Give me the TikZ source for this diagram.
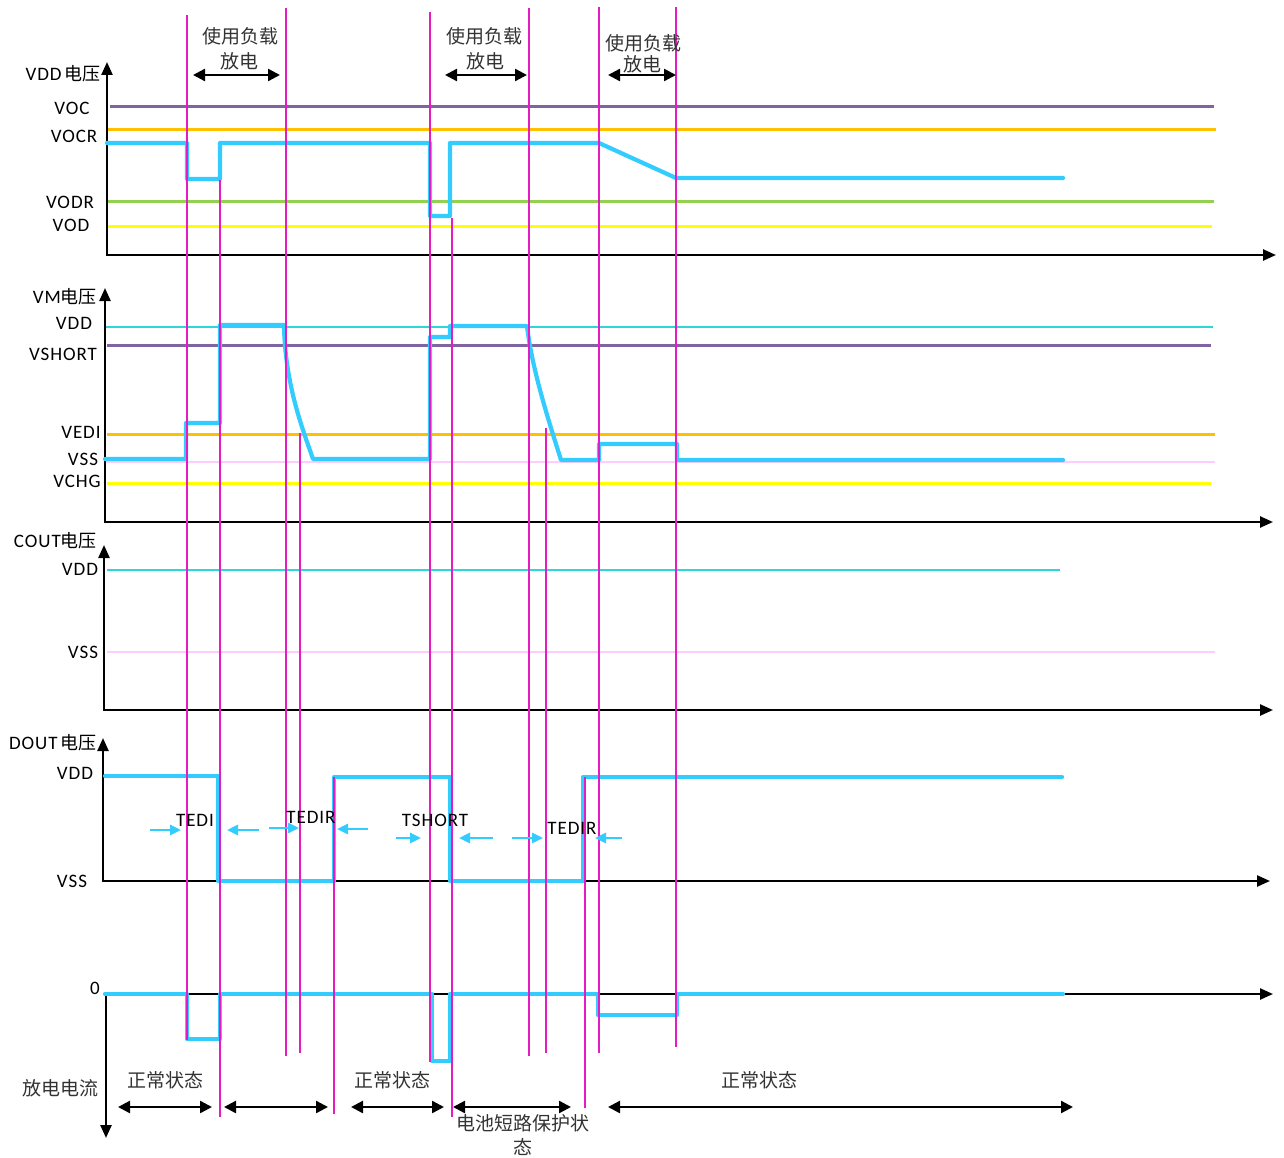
\documentclass[tikz,border=0pt]{standalone}
\usepackage{fontspec}
\setmainfont{Carlito}[LetterSpace=5]
\newfontfamily\cjk{Noto Sans CJK SC}
\usetikzlibrary{arrows.meta}
\definecolor{sig}{HTML}{33CCFF}
\definecolor{mag}{HTML}{E61CC3}
\definecolor{vpurple}{HTML}{8064A2}
\definecolor{vorange}{HTML}{FFC000}
\definecolor{vgreen}{HTML}{92D050}
\definecolor{vyellow}{HTML}{FFFF00}
\definecolor{vcyan}{HTML}{2ED6DC}
\definecolor{vpink}{HTML}{FFCCFF}
\tikzset{
  axisline/.style={line width=2.4pt, line join=miter},
  axtip/.tip={Triangle[length=13pt,width=11pt]},
  sigline/.style={sig, line width=4.2pt, line join=round, line cap=round},
  mline/.style={mag, line width=2.3pt},
  refline/.style={line width=3pt},
  lab/.style={font=\fontsize{19}{21}\selectfont, inner sep=0pt},
  cjklab/.style={font=\cjk\fontsize{19}{22}\selectfont, inner sep=0pt, text=black!80},
  darr/.style={line width=2.4pt, {Triangle[length=12pt,width=12pt]}-{Triangle[length=12pt,width=12pt]}},
  carr/.style={sig, line width=2.6pt, -{Triangle[length=11pt,width=10pt]}},
}
\begin{document}
\begin{tikzpicture}[x=1pt,y=-1pt]
\useasboundingbox[fill=white] (0,0) rectangle (1284,1158);

% ---------- reference levels ----------
% panel 1
\draw[refline,vpurple] (110,107) -- (1214,107);
\draw[refline,vorange] (107,130) -- (1216,130);
\draw[refline,vgreen]  (107,202) -- (1214,202);
\draw[refline,vyellow] (107,227) -- (1212,227);
% panel 2
\draw[line width=2pt,vcyan] (105,327) -- (1213,327);
\draw[refline,vpurple] (107,345) -- (1211,345);
\draw[refline,vorange] (107,434) -- (1215,434);
\draw[line width=2.5pt,vpink] (105,462) -- (1215,462);
\draw[refline,vyellow] (107,483) -- (1211,483);
% panel 3
\draw[line width=2pt,vcyan] (107,570) -- (1060,570);
\draw[line width=2.5pt,vpink] (107,652) -- (1215,652);

% ---------- axes ----------
\draw[axisline,axtip-axtip] (107,62) -- (107,255) -- (1276,255);
\draw[axisline,axtip-axtip] (105,288) -- (105,522) -- (1273,522);
\draw[axisline,axtip-axtip] (104,545) -- (104,710) -- (1273,710);
\draw[axisline,axtip-axtip] (103,738) -- (103,881) -- (1270,881);
\draw[axisline,axtip-axtip] (1273,994) -- (106,994) -- (106,1138);

% ---------- signals ----------
\draw[sigline] (107,143) -- (187,143) -- (187,179) -- (220,179) -- (220,143)
  -- (430,143) -- (430,216) -- (450,216) -- (450,143) -- (599,143) -- (676,178) -- (1063,178);
\draw[sigline] (105,459) -- (186,459) -- (186,423) -- (220,423) -- (220,325) -- (284,325)
  .. controls (285,385) and (303,430) .. (313,459) -- (430,459) -- (430,337) -- (450,337)
  -- (450,326) -- (527,326) .. controls (532,370) and (550,425) .. (561,460) -- (599,460)
  -- (599,444) -- (677,444) -- (677,460) -- (1063,460);
\draw[sigline] (105,776) -- (218,776) -- (218,881) -- (334,881) -- (334,777) -- (450,777)
  -- (450,881) -- (583,881) -- (583,777) -- (1062,777);
\draw[sigline] (105,994) -- (187,994) -- (187,1039) -- (220,1039) -- (220,994) -- (432,994)
  -- (432,1061) -- (450,1061) -- (450,994) -- (598,994) -- (598,1015) -- (677,1015)
  -- (677,994) -- (1063,994);

% ---------- magenta time markers ----------
\draw[mline] (187,15) -- (187,1040);
\draw[mline] (220,180) -- (220,1117);
\draw[mline] (286,8) -- (286,1056);
\draw[mline] (300,433) -- (300,1053);
\draw[mline] (334,777) -- (334,1114);
\draw[mline] (430,12) -- (430,1062);
\draw[mline] (452,218) -- (452,1117);
\draw[mline] (529,8) -- (529,1056);
\draw[mline] (546,428) -- (546,1053);
\draw[mline] (585,777) -- (585,1108);
\draw[mline] (599,7) -- (599,1053);
\draw[mline] (676,7) -- (676,1047);

% ---------- top load annotations ----------
\node[cjklab] (l1a) at (240,36) {使用负载};
\node[cjklab] (l1b) at (239,61) {放电};
\node[cjklab] (l2a) at (484,36) {使用负载};
\node[cjklab] (l2b) at (485,61) {放电};
\node[cjklab] (l3a) at (643,43) {使用负载};
\node[cjklab] (l3b) at (642,64) {放电};
\coordinate (t1l) at (193,75); \coordinate (t1r) at (280,75);
\coordinate (t2l) at (445,75); \coordinate (t2r) at (527,75);
\coordinate (t3l) at (608,75); \coordinate (t3r) at (676,75);
\draw[darr] (t1l) -- (t1r);
\draw[darr] (t2l) -- (t2r);
\draw[darr] (t3l) -- (t3r);

% ---------- axis labels ----------
\node[lab,anchor=east] (y1) at (101,74) {VDD\,{\cjk\fontsize{18}{20}\selectfont 电压}};
\node[lab] (voc) at (72,108) {VOC};
\node[lab] (vocr) at (74,136) {VOCR};
\node[lab] (vodr) at (70,202) {VODR};
\node[lab] (vod) at (71,225) {VOD};

\node[lab,anchor=east] (y2) at (97,297) {VM{\cjk\fontsize{18}{20}\selectfont 电压}};
\node[lab] (vdd2) at (74,323) {VDD};
\node[lab] (vsh) at (63,354) {VSHORT};
\node[lab] (vedi) at (81,432) {VEDI};
\node[lab] (vss2) at (83,459) {VSS};
\node[lab] (vchg) at (77,481) {VCHG};

\node[lab,anchor=east] (y3) at (97,541) {COUT{\cjk\fontsize{18}{20}\selectfont 电压}};
\node[lab] (vdd3) at (80,569) {VDD};
\node[lab] (vss3) at (83,652) {VSS};

\node[lab,anchor=east] (y4) at (97,743) {DOUT\,{\cjk\fontsize{18}{20}\selectfont 电压}};
\node[lab] (vdd4) at (75,773) {VDD};
\node[lab] (vss4) at (72,881) {VSS};

\node[lab] (zero) at (95,988) {0};
\node[cjklab] (cur) at (60,1088) {放电电流};

% ---------- DOUT timing labels ----------
\node[lab] (tedi) at (195,820) {TEDI};
\node[lab] (tedir1) at (311,817) {TEDIR};
\node[lab] (tshort) at (435,820) {TSHORT};
\node[lab] (tedir2) at (572,828) {TEDIR};
\draw[carr] (150,830) -- (181,830);
\draw[carr] (259,830) -- (227,830);
\draw[carr] (269,828) -- (299,828);
\draw[carr] (368,829) -- (337,829);
\draw[carr] (396,838) -- (421,838);
\draw[carr] (493,838) -- (459,838);
\draw[carr] (512,838) -- (543,838);
\draw[carr] (622,838) -- (595,838);

% ---------- state annotations ----------
\node[cjklab] (s1) at (165,1080) {正常状态};
\node[cjklab] (s2) at (392,1080) {正常状态};
\node[cjklab] (s3) at (759,1080) {正常状态};
\node[cjklab] (s4a) at (523,1123) {电池短路保护状};
\node[cjklab] (s4b) at (523,1147) {态};
\coordinate (b1l) at (118,1107); \coordinate (b1r) at (212,1107);
\coordinate (b2l) at (224,1107); \coordinate (b2r) at (328,1107);
\coordinate (b3l) at (351,1107); \coordinate (b3r) at (444,1107);
\coordinate (b4l) at (453,1107); \coordinate (b4r) at (571,1107);
\coordinate (b5l) at (608,1107); \coordinate (b5r) at (1073,1107);
\draw[darr] (b1l) -- (b1r);
\draw[darr] (b2l) -- (b2r);
\draw[darr] (b3l) -- (b3r);
\draw[darr] (b4l) -- (b4r);
\draw[darr] (b5l) -- (b5r);
\end{tikzpicture}
\end{document}
